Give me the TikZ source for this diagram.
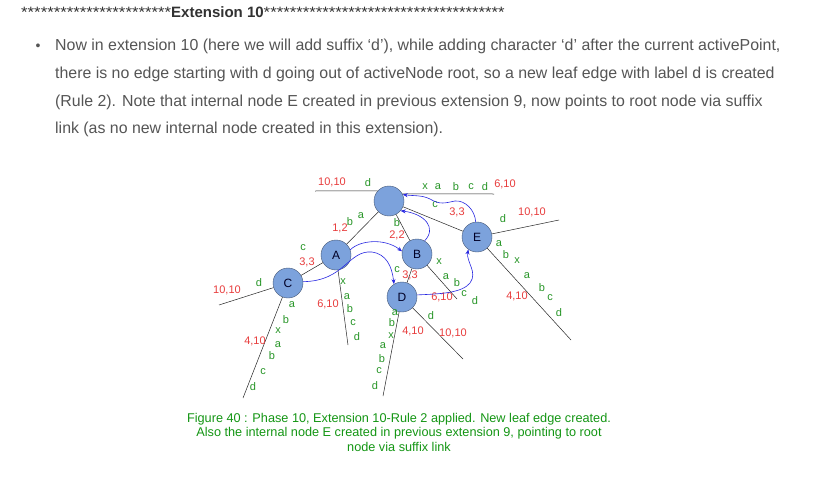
\documentclass[tikz,border=0pt]{standalone}
\usepackage{fontspec}
\usepackage{graphicx}
\setmainfont{Liberation Sans}
\usetikzlibrary{arrows.meta}

\definecolor{nodefill}{RGB}{124,162,220}
\definecolor{nodeline}{RGB}{70,88,118}
\definecolor{chgreen}{RGB}{40,150,40}
\definecolor{numred}{RGB}{232,60,60}
\definecolor{linkblue}{RGB}{40,40,225}
\definecolor{textgray}{RGB}{85,85,85}
\definecolor{titlegray}{RGB}{50,50,50}
\definecolor{capgreen}{RGB}{20,150,20}

\begin{document}
\begin{tikzpicture}[x=1pt, y=-1pt,
  tnode/.style={circle, draw=nodeline, fill=nodefill, minimum size=30pt, inner sep=0pt,
    font=\fontsize{12}{12}\selectfont, text=black!85!blue},
  edge/.style={draw=black!85, line width=0.5pt},
  ch/.style={text=chgreen, font=\fontsize{11}{11}\selectfont, inner sep=0pt},
  num/.style={text=numred, font=\fontsize{11}{11}\selectfont, inner sep=0pt},
  slink/.style={draw=linkblue, line width=0.6pt, -{Stealth[length=5pt,width=4pt]}}]

\useasboundingbox[fill=white] (0,0) rectangle (813,503);

% heading and text
\node[anchor=base west, inner sep=0pt, text=titlegray] (title) at (21,18)
  {\resizebox{150pt}{\height}{\fontsize{15}{15}\selectfont ***********************}%
   {\fontsize{15}{15}\selectfont\bfseries Extension 10}%
   \resizebox{241pt}{\height}{\fontsize{15}{15}\selectfont *************************************}};
\node[text=textgray, font=\fontsize{14}{14}\selectfont, inner sep=0pt] (bullet) at (38,47) {•};
\node[anchor=north west, align=left, inner sep=0pt, text=textgray,
  font=\fontsize{15.9}{27.7}\selectfont] (para) at (55,39)
  {Now in extension 10 (here we will add suffix ‘d’), while adding character ‘d’ after the current activePoint,\\
   there is no edge starting with d going out of activeNode root, so a new leaf edge with label d is created\\
   (Rule 2). Note that internal node E created in previous extension 9, now points to root node via suffix\\
   link (as no new internal node created in this extension).};

% tree nodes
\node[tnode] (root) at (389,201) {};
\node[tnode] (A) at (336,255) {A};
\node[tnode] (B) at (417,254) {B};
\node[tnode] (C) at (288,283) {C};
\node[tnode] (D) at (402,297) {D};
\node[tnode] (E) at (477,237) {E};

% leaf ends
\coordinate (rootL) at (315,191);
\coordinate (rootR) at (494,194);
\coordinate (CL) at (219,305);
\coordinate (CD) at (243,398);
\coordinate (AD) at (348,345);
\coordinate (BD) at (457,299);
\coordinate (DL) at (383,396);
\coordinate (DR) at (463,359);
\coordinate (ER) at (559,220);
\coordinate (ED) at (571,340);

% edges
\draw[edge] (rootL) -- (root.138);
\draw[edge] (root.28) -- (rootR);
\draw[edge] (root) -- (A);
\draw[edge] (root) -- (B);
\draw[edge] (root) -- (E);
\draw[edge] (A) -- (C);
\draw[edge] (B) -- (D);
\draw[edge] (A) -- (AD);
\draw[edge] (C) -- (CL);
\draw[edge] (C) -- (CD);
\draw[edge] (B) -- (BD);
\draw[edge] (D) -- (DL);
\draw[edge] (D) -- (DR);
\draw[edge] (E) -- (ER);
\draw[edge] (E) -- (ED);

% edge characters
\foreach \px/\py/\t [count=\i] in {368/183/d,
    425/187/x, 438/187/a, 456/187/b, 471/187/c, 485/187/d,
    350/222/b, 361/216/a, 397/223/b, 435/205/c, 303/248/c,
    343/282/x, 347/297/a, 350/309/b, 353/323/c, 357/337/d,
    259/283/d,
    292/305/a, 286/320/b, 278/331/x, 278/345/a, 272/356/b, 263/372/c, 253/387/d,
    397/270/c,
    439/262/x, 446/277/a, 457/283/b, 464/294/c, 475/301/d,
    395/313/a, 392/323/b, 391/336/x, 383/346/a, 382/359/b, 379/371/c, 375/386/d,
    431/316/d, 503/219/d,
    499/244/a, 506/255/b, 517/261/x, 527/276/a, 542/288/b, 550/298/c, 559/313/d}
  \node[ch] (ch\i) at (\px,\py) {\t};

% edge index ranges
\foreach \px/\py/\t [count=\i] in {332/182/{10,10}, 505/184/{6,10}, 340/228/{1,2},
    397/235/{2,2}, 457/212/{3,3}, 307/262/{3,3}, 328/304/{6,10}, 227/290/{10,10},
    255/341/{4,10}, 410/275/{3,3}, 442/297/{6,10}, 413/331/{4,10}, 453/333/{10,10},
    532/212/{10,10}, 517/296/{4,10}}
  \node[num] (num\i) at (\px,\py) {\t};

% suffix links
\draw[slink] (C.5) .. controls (345,281) and (348,250) .. (372,252)
  .. controls (386,254) and (392,266) .. (D.122);
\draw[slink] (A.20) .. controls (360,240) and (385,238) .. (B.170);
\draw[slink] (B.60) .. controls (437,228) and (425,214) .. (root.-40);
\draw[slink] (D.8) .. controls (440,294) and (462,293) .. (470,283)
  .. controls (478,272) and (466,262) .. (E.-125);
\draw[slink] (E.95) .. controls (475,210) and (465,200) .. (455,201)
  .. controls (445,203) and (440,205) .. (430,199)
  .. controls (422,195) and (414,196) .. (root.25);

% caption
\node[align=center, inner sep=0pt, text=capgreen, font=\fontsize{12.7}{14.5}\selectfont] (caption) at (399,432)
  {Figure 40 : Phase 10, Extension 10-Rule 2 applied. New leaf edge created.\\
   Also the internal node E created in previous extension 9, pointing to root\\
   node via suffix link};
\end{tikzpicture}
\end{document}
